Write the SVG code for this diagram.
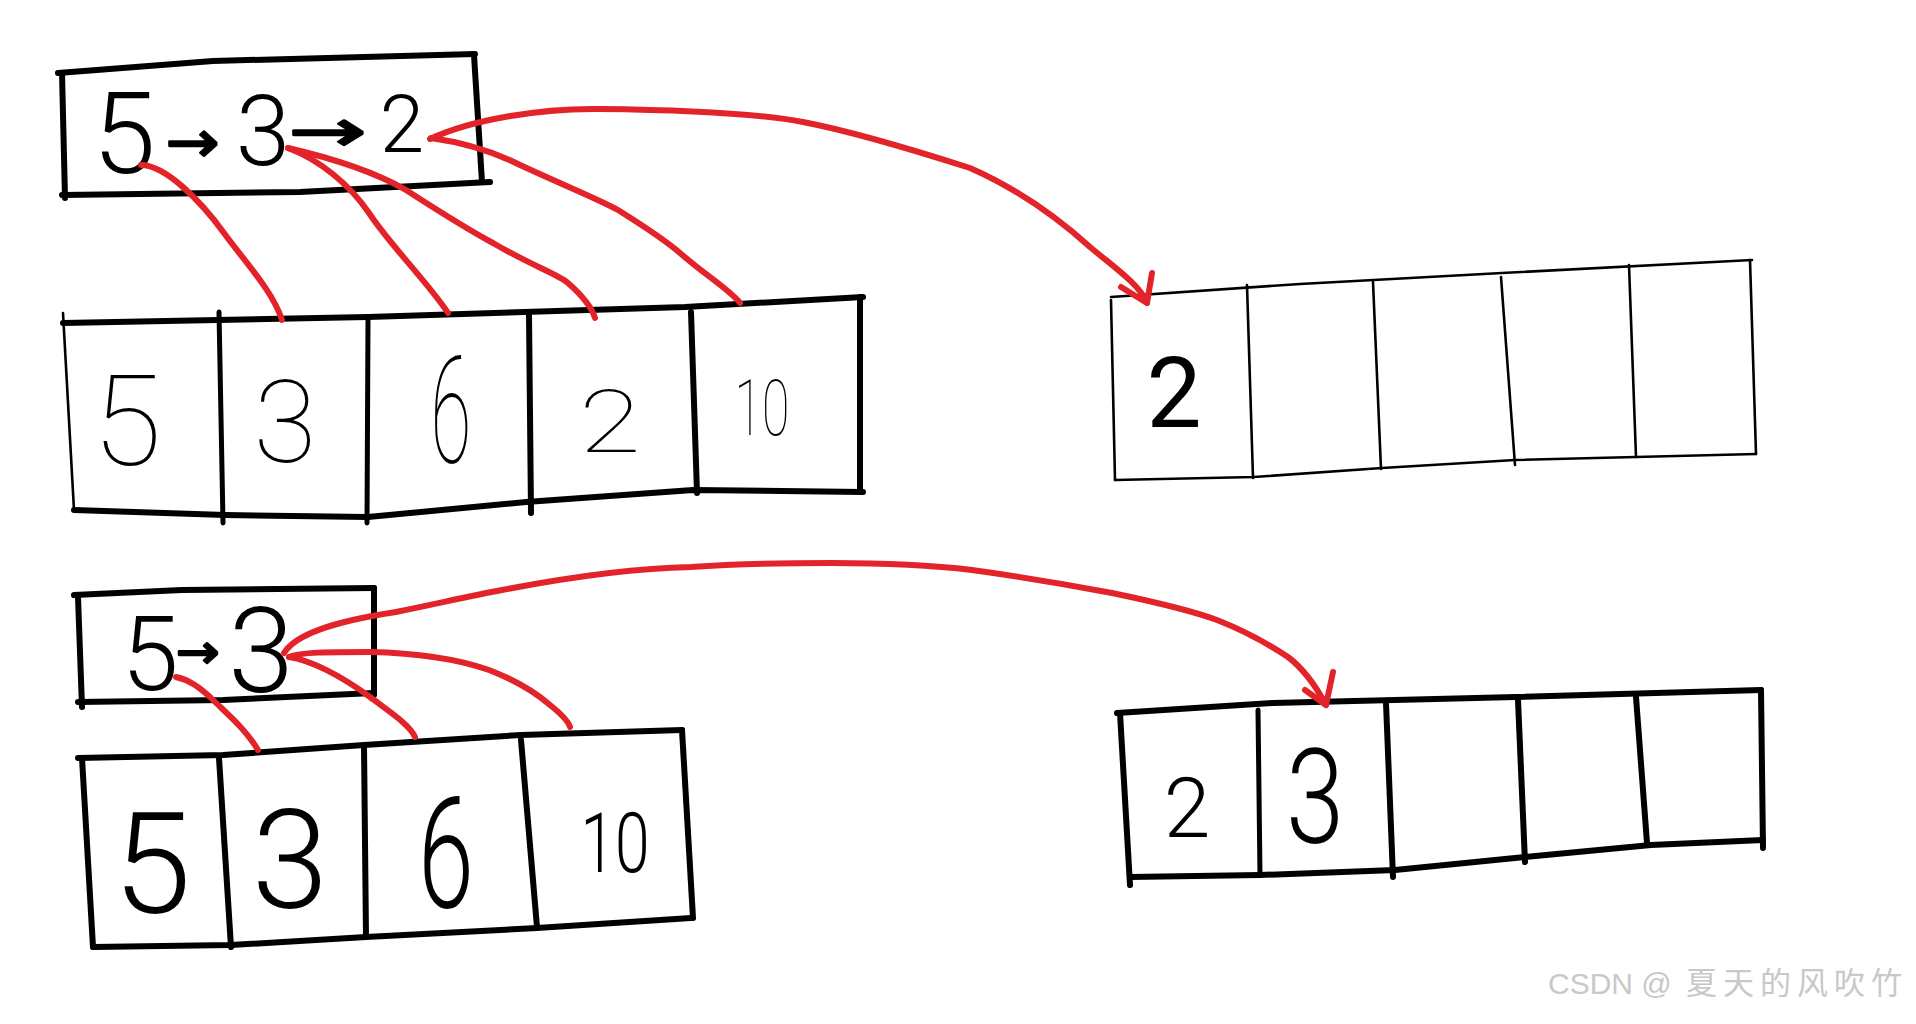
<svg xmlns="http://www.w3.org/2000/svg" width="1916" height="1024" viewBox="0 0 1916 1024">
<style>
.k{fill:none;stroke:#000;stroke-linecap:round;stroke-linejoin:round}
.w6{stroke-width:6}
.w5{stroke-width:5}
.w3{stroke-width:2.6}
.r{fill:none;stroke:#e3232a;stroke-width:6;stroke-linecap:round;stroke-linejoin:round}
.d{font-family:Roboto,"Liberation Sans",sans-serif;fill:#000;text-anchor:middle}
.t1{font-weight:100}
.t3{font-weight:300}
.t4{font-weight:400}
.ar{font-family:"DejaVu Sans",sans-serif;fill:#000;stroke:#000;stroke-width:2.5;stroke-linejoin:round}
.wm{font-family:"Liberation Sans","Noto Sans CJK SC",sans-serif;fill:#c8c8c8}
</style>
<rect width="1916" height="1024" fill="#fff"/>

<g id="top-box">
<polyline class="k w6" points="58,73 213,61 475,54"/>
<polyline class="k w6" points="62,73 65,198"/>
<polyline class="k w6" points="62,195 300,192 490,182"/>
<polyline class="k w6" points="474,55 482,182"/>
<text class="d t3" font-size="114" x="124" y="173">5</text>
<text class="ar" font-size="64" transform="translate(166,162) scale(1,0.9)">→</text>
<text class="d t3" font-size="98" x="263" y="165">3</text>
<text class="ar" font-size="64" transform="translate(289,151) scale(1.45,0.9)">→</text>
<text class="d t3" font-size="80" x="402" y="152">2</text>
</g>

<g id="top-array">
<polyline class="k w6" points="63,323 368,317 685,307 863,297"/>
<polyline class="k w3" points="63,313 74,510"/>
<polyline class="k w6" points="74,510 225,515 368,517 526,502 693,490 863,492"/>
<polyline class="k w6" points="860,297 860,490"/>
<polyline class="k w5" points="219,312 223,523"/>
<polyline class="k w5" points="368,320 367,523"/>
<polyline class="k w6" points="529,315 531,513"/>
<polyline class="k w6" points="691,312 697,493"/>
<text class="d t1" font-size="127" x="127" y="465">5</text>
<text class="d t1" font-size="115" x="285" y="462">3</text>
<text class="d t1" font-size="149" transform="translate(451,463) scale(0.5,1)">6</text>
<text class="d t1" font-size="87" transform="translate(610,452) scale(1.3,1)">2</text>
<text class="d t1" font-size="77" transform="translate(762,435) scale(0.65,1)">10</text>
</g>

<g id="top-result">
<polyline class="k w3" points="1111,297 1300,284 1502,273 1752,260"/>
<polyline class="k w3" points="1111,300 1115,480"/>
<polyline class="k w3" points="1115,480 1254,477 1382,468 1515,460 1636,457 1756,454"/>
<polyline class="k w3" points="1750,260 1756,454"/>
<polyline class="k w3" points="1247,285 1253,478"/>
<polyline class="k w3" points="1373,282 1381,469"/>
<polyline class="k w3" points="1501,277 1515,465"/>
<polyline class="k w3" points="1629,265 1636,457"/>
<text class="d t4" font-size="98" x="1174" y="427">2</text>
</g>

<g id="bottom-box">
<polyline class="k w6" points="74,595 182,590 374,588"/>
<polyline class="k w6" points="78,597 82,707"/>
<polyline class="k w6" points="78,702 223,700 374,693"/>
<polyline class="k w6" points="374,588 374,695"/>
<text class="d t3" font-size="103" x="150" y="690">5</text>
<text class="ar" font-size="52" transform="translate(176,668) scale(1,0.9)">→</text>
<text class="d t3" font-size="118" x="261" y="692">3</text>
</g>

<g id="bottom-array">
<polyline class="k w6" points="78,758 223,755 364,745 521,735 682,730"/>
<polyline class="k w6" points="82,758 93,947"/>
<polyline class="k w6" points="93,947 231,945 366,937 537,928 691,918"/>
<polyline class="k w6" points="682,730 693,918"/>
<polyline class="k w6" points="219,758 231,947"/>
<polyline class="k w6" points="364,745 366,937"/>
<polyline class="k w6" points="521,740 537,927"/>
<text class="d t3" font-size="141" x="152" y="913">5</text>
<text class="d t3" font-size="138" x="290" y="908">3</text>
<text class="d t3" font-size="155" transform="translate(446,907) scale(0.65,1)">6</text>
<text class="d t3" font-size="83" transform="translate(615,872) scale(0.75,1)">10</text>
</g>

<g id="bottom-result">
<polyline class="k w6" points="1117,713 1273,703 1516,697 1761,690"/>
<polyline class="k w6" points="1120,713 1130,885"/>
<polyline class="k w6" points="1130,877 1260,875 1395,870 1525,857 1651,845 1763,840"/>
<polyline class="k w6" points="1761,690 1763,848"/>
<polyline class="k w5" points="1258,710 1260,875"/>
<polyline class="k w6" points="1386,703 1393,877"/>
<polyline class="k w6" points="1518,700 1525,862"/>
<polyline class="k w6" points="1636,697 1647,843"/>
<text class="d t3" font-size="84" x="1187" y="837">2</text>
<text class="d t3" font-size="131" transform="translate(1315,843) scale(0.8,1)">3</text>
</g>

<g id="connectors">
<path class="r" d="M430,139 C470,120 540,108 600,109 C690,110 760,114 803,122 C850,131 920,152 970,168 C1020,190 1060,220 1090,247 C1115,268 1140,285 1147,303"/>
<polyline class="r" points="1121,287 1147,303 1152,273"/>
<path class="r" d="M141,165 C165,165 200,200 224,233 C245,262 272,290 282,320"/>
<path class="r" d="M288,148 C320,160 350,185 369,213 C390,245 430,285 448,313"/>
<path class="r" d="M288,148 C340,160 380,175 406,190 C440,212 465,228 493,243 C530,265 560,275 568,283 C585,298 592,308 595,318"/>
<path class="r" d="M431,138 C460,142 490,150 520,165 C570,188 600,200 618,210 C650,230 665,240 680,253 C705,275 730,290 740,303"/>
<path class="r" d="M176,677 C190,680 200,688 210,697 C225,712 245,728 258,750"/>
<path class="r" d="M289,657 C310,660 340,675 370,697 C390,712 410,725 415,737"/>
<path class="r" d="M289,657 C300,652 330,652 370,652 C420,653 460,660 489,670 C515,680 535,692 550,705 C560,713 568,720 570,727"/>
<path class="r" d="M284,653 C295,635 330,622 396,612 C440,603 470,596 502,590 C580,575 640,568 691,567 C750,563 790,563 831,563 C880,563 930,565 972,570 C1030,578 1070,585 1112,593 C1160,603 1190,610 1217,620 C1250,633 1270,645 1288,657 C1305,670 1318,690 1326,705"/>
<polyline class="r" points="1305,690 1326,705 1333,672"/>
</g>

<text class="wm" x="1548" y="994"><tspan font-size="30">CSDN @</tspan><tspan x="1686" font-size="31" letter-spacing="6">夏天的风吹竹</tspan></text>
</svg>
